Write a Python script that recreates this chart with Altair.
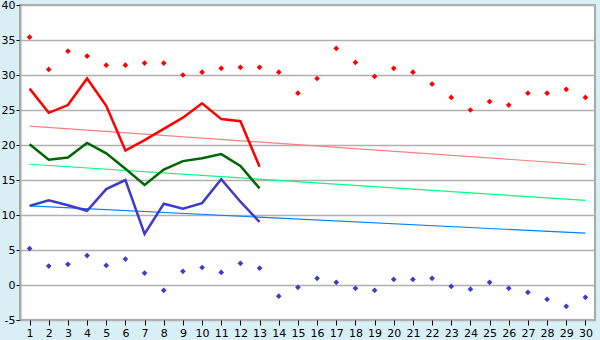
import altair as alt
import pandas as pd

days = list(range(1, 31))
max_pts = [35.4, 30.8, 33.4, 32.7, 31.4, 31.4, 31.7, 31.7, 30.0, 30.4,
           30.95, 31.1, 31.1, 30.4, 27.4, 29.5, 33.8, 31.8, 29.8, 30.95,
           30.4, 28.7, 26.8, 25.0, 26.2, 25.7, 27.4, 27.4, 27.95, 26.8]
min_pts = [5.2, 2.7, 2.95, 4.2, 2.8, 3.7, 1.7, -0.76, 1.95, 2.5,
           1.8, 3.1, 2.4, -1.6, -0.33, 0.95, 0.38, -0.48, -0.76, 0.8,
           0.8, 0.95, -0.2, -0.6, 0.38, -0.48, -1.05, -2.05, -3.05, -1.76]
line_days = list(range(1, 14))
red_line = [28.05, 24.6, 25.7, 29.5, 25.6, 19.2, 20.7, 22.3, 23.9, 25.95, 23.7, 23.4, 16.9]
green_line = [20.1, 17.9, 18.2, 20.3, 18.8, 16.6, 14.3, 16.5, 17.7, 18.1, 18.7, 17.0, 13.8]
blue_line = [11.3, 12.1, 11.4, 10.6, 13.7, 15.0, 7.3, 11.6, 10.9, 11.7, 15.1, 11.9, 9.0]
trend_days = [1, 30]
red_trend = [22.7, 17.2]
green_trend = [17.25, 12.1]
blue_trend = [11.3, 7.4]

x_scale = alt.Scale(domain=[0.5, 30.5], nice=False, zero=False)
y_scale = alt.Scale(domain=[-5, 40], nice=False, zero=False)

x_axis = alt.Axis(values=days, grid=False, tickSize=5, tickColor="#000000",
                  domain=False, labelFont="DejaVu Sans", labelFontSize=11,
                  labelColor="#000000", title=None, labelPadding=2)
y_axis = alt.Axis(values=list(range(-5, 41, 5)), grid=True, gridColor="#B0B0B0",
                  gridWidth=1.5, tickSize=4, tickColor="#000000", domain=True,
                  domainColor="#A8A8A8", domainWidth=2, labelFont="DejaVu Sans",
                  labelFontSize=11, labelColor="#000000", title=None, labelPadding=1,
                  labelExpr="'' + datum.value")

def pts(vals, color, d=days):
    df = pd.DataFrame({"day": d, "v": vals})
    return alt.Chart(df).mark_point(shape="diamond", filled=True, size=32,
                                    color=color, opacity=1).encode(
        x=alt.X("day:Q", scale=x_scale, axis=x_axis),
        y=alt.Y("v:Q", scale=y_scale, axis=y_axis))

def line(vals, d, color, w):
    df = pd.DataFrame({"day": d, "v": vals})
    return alt.Chart(df).mark_line(color=color, strokeWidth=w).encode(
        x=alt.X("day:Q", scale=x_scale, axis=x_axis),
        y=alt.Y("v:Q", scale=y_scale, axis=y_axis))

chart = alt.layer(
    line(red_trend, trend_days, "#FF8080", 1.2),
    line(green_trend, trend_days, "#00FF80", 1.2),
    line(blue_trend, trend_days, "#0080FF", 1.2),
    line(red_line, line_days, "#FF0000", 2.5),
    line(green_line, line_days, "#006600", 2.5),
    line(blue_line, line_days, "#3C3CC8", 2.5),
    pts(max_pts, "#FF0000"),
    pts(min_pts, "#3C3CC8"),
).properties(
    width=575, height=315,
    autosize=alt.AutoSizeParams(type="none"),
    padding={"left": 20, "top": 5, "right": 5, "bottom": 20},
    background="#D9EFF6",
).configure_view(fill="#FFFFFF", stroke="#A8A8A8", strokeWidth=2)

chart.save("out.html", embed_options={"renderer": "svg", "actions": False})
